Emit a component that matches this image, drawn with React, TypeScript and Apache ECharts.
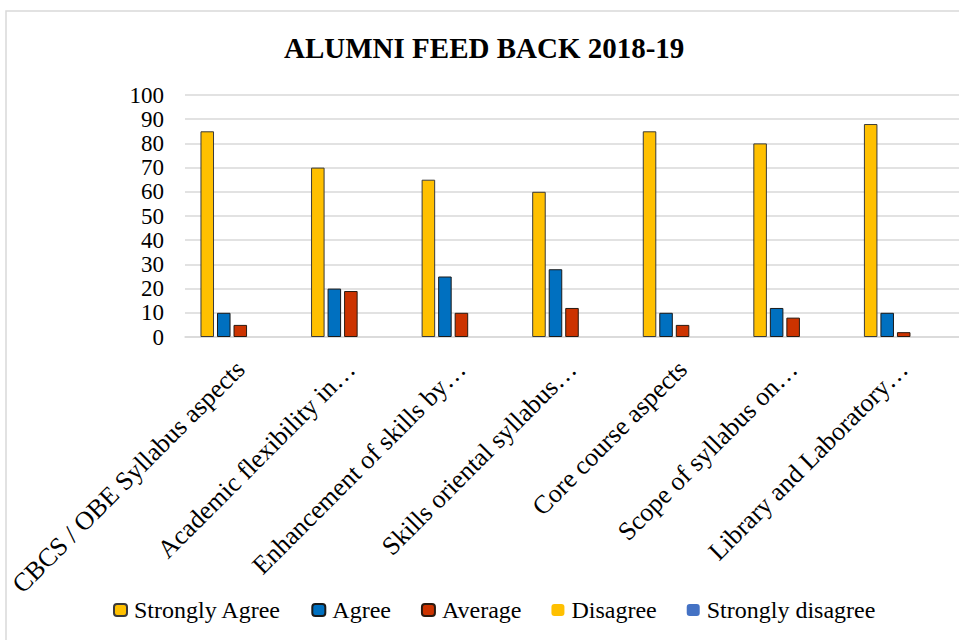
import React, { useEffect, useRef } from "react";
import * as echarts from "echarts";

const categories = [
  "CBCS / OBE Syllabus aspects",
  "Academic flexibility in…",
  "Enhancement of skills by…",
  "Skills oriental syllabus…",
  "Core course aspects",
  "Scope of syllabus on…",
  "Library and Laboratory…",
];

const seriesNames = ["Strongly Agree", "Agree", "Average", "Disagree", "Strongly disagree"];

const stronglyAgree = [85, 70, 65, 60, 85, 80, 88];
const agree = [10, 20, 25, 28, 10, 12, 10];
const average = [5, 19, 10, 12, 5, 8, 2];
const disagree = [null, null, null, null, null, null, null];
const stronglyDisagree = [null, null, null, null, null, null, null];

const yTicks = [0, 10, 20, 30, 40, 50, 60, 70, 80, 90, 100];

const FONT = "Liberation Serif";

export default function App() {
  const ref = useRef<HTMLDivElement>(null);

  useEffect(() => {
    if (!ref.current) return;
    const chart = echarts.init(ref.current, undefined, { renderer: "svg" });
    const colors = ["#FFC000", "#0070C0", "#CC3300", "#FFC000", "#4472C4"];
    const borders = ["#3a3a3a", "#1a1a1a", "#2a1a10", undefined, undefined];
    const datas = [stronglyAgree, agree, average, disagree, stronglyDisagree];

    chart.setOption({
      animation: false,
      backgroundColor: "#ffffff",
      textStyle: { fontFamily: FONT },
      title: {
        text: "ALUMNI FEED BACK 2018-19",
        left: 284,
        top: 33,
        padding: 0,
        textStyle: { fontFamily: FONT, fontSize: 29, fontWeight: "bold", color: "#000" },
      },
      graphic: [
        {
          type: "rect",
          shape: { x: 6, y: 11, width: 1000, height: 700 },
          style: { fill: "none", stroke: "#d9d9d9", lineWidth: 1.5 },
          silent: true,
        },
      ],
      legend: {
        left: 113,
        top: 598,
        padding: 0,
        itemWidth: 13,
        itemHeight: 12,
        itemGap: 30,
        data: seriesNames,
        textStyle: { fontFamily: FONT, fontSize: 24, color: "#000", padding: [0, 0, 0, 2] },
      },
      grid: { left: 185, right: -3, top: 95, bottom: 303, containLabel: false },
      xAxis: {
        type: "category",
        data: categories,
        axisLine: { show: true, lineStyle: { color: "#d9d9d9", width: 1.5 } },
        axisTick: { show: false },
        axisLabel: {
          rotate: 45,
          interval: 0,
          margin: 28,
          fontFamily: FONT,
          fontSize: 26,
          color: "#000",
        },
      },
      yAxis: {
        type: "value",
        min: yTicks[0],
        max: yTicks[yTicks.length - 1],
        interval: 10,
        axisLine: { show: false },
        axisTick: { show: false },
        splitLine: { lineStyle: { color: "#d9d9d9", width: 1.5 } },
        axisLabel: {
          margin: 21,
          fontFamily: FONT,
          fontSize: 23,
          lineHeight: 23,
          color: "#000",
          showMinLabel: true,
          showMaxLabel: true,
          hideOverlap: false,
        },
      },
      series: seriesNames.map((name, i) => ({
        name,
        type: "bar",
        data: datas[i],
        barGap: "22%",
        barCategoryGap: "28%",
        itemStyle: borders[i]
          ? { color: colors[i], borderColor: borders[i], borderWidth: 1 }
          : { color: colors[i] },
      })),
    });
    return () => chart.dispose();
  }, []);

  return (
    <div
      ref={ref}
      style={{ position: "fixed", left: 0, top: 0, width: 959, height: 640 }}
    />
  );
}
